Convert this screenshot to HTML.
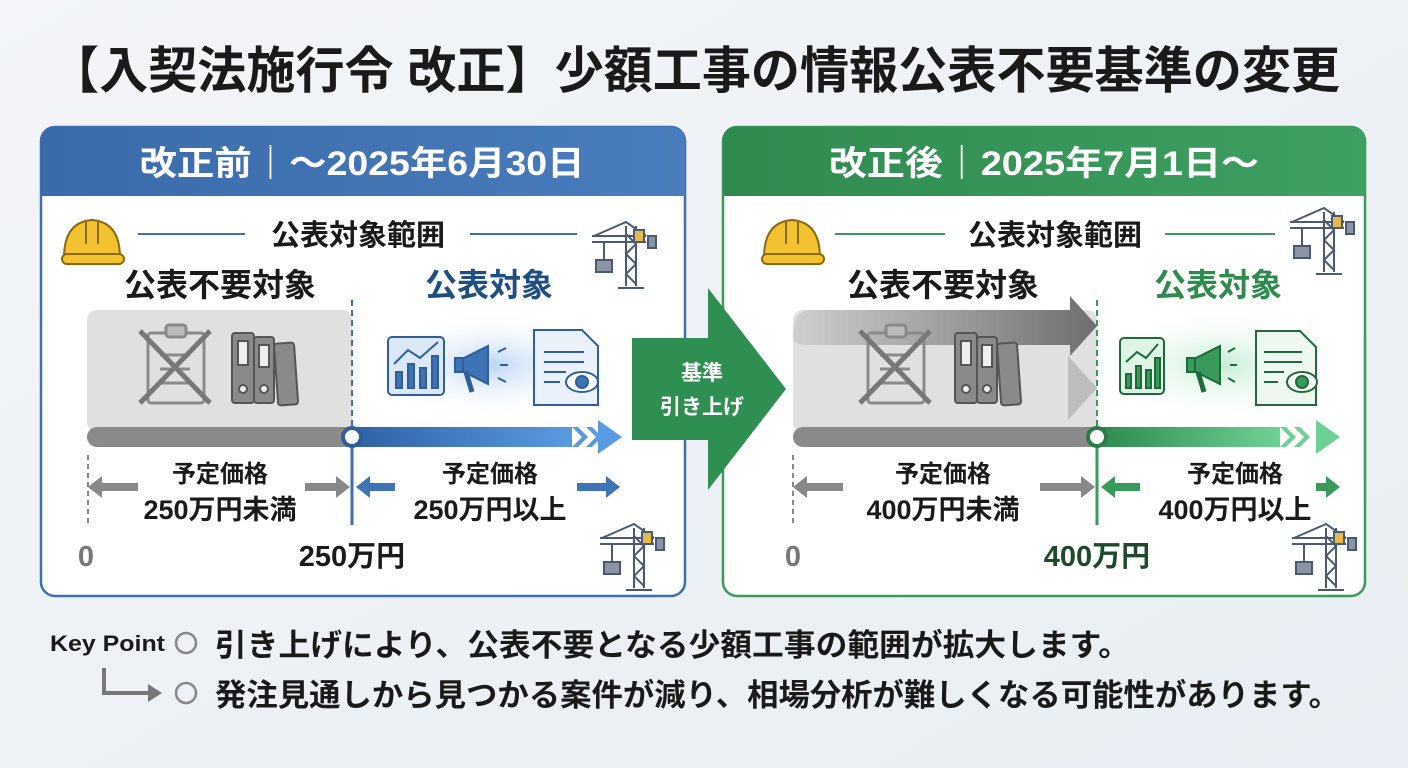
<!DOCTYPE html>
<html><head><meta charset="utf-8"><style>
html,body{margin:0;padding:0;width:1408px;height:768px;overflow:hidden;background:#eef2f6}
svg{display:block}
text{font-family:"Liberation Sans","Noto Sans CJK JP",sans-serif;font-weight:bold}
</style></head><body>
<svg width="1408" height="768" viewBox="0 0 1408 768" xmlns="http://www.w3.org/2000/svg">
<defs>
<linearGradient id="bg" x1="0" y1="0" x2="1" y2="1"><stop offset="0" stop-color="#f3f5f8"/><stop offset="1" stop-color="#e8eef3"/></linearGradient>
<linearGradient id="hb" x1="0" x2="1"><stop offset="0" stop-color="#3a6aaa"/><stop offset="1" stop-color="#4a7dbd"/></linearGradient>
<linearGradient id="hg" x1="0" x2="1"><stop offset="0" stop-color="#2f8a50"/><stop offset="1" stop-color="#3fa063"/></linearGradient>
<linearGradient id="bb" x1="0" x2="1"><stop offset="0" stop-color="#2f62a3"/><stop offset="1" stop-color="#5a9ae0"/></linearGradient>
<linearGradient id="gb" x1="0" x2="1"><stop offset="0" stop-color="#2e8a4e"/><stop offset="1" stop-color="#6fd096"/></linearGradient>
<linearGradient id="ga" x1="0" x2="1"><stop offset="0" stop-color="#cfcfcf"/><stop offset="1" stop-color="#6e6e6e"/></linearGradient>
<radialGradient id="glowb"><stop offset="0" stop-color="#bcd6f3"/><stop offset="1" stop-color="#ffffff" stop-opacity="0"/></radialGradient>
<radialGradient id="glowg"><stop offset="0" stop-color="#c4ecd2"/><stop offset="1" stop-color="#ffffff" stop-opacity="0"/></radialGradient>
<g id="helmet"><path d="M2 44 Q2 8 30 6 Q58 8 58 44 Z" fill="#f2c230" stroke="#8a6a10" stroke-width="2"/><rect x="0" y="40" width="62" height="10" rx="5" fill="#f2c230" stroke="#8a6a10" stroke-width="2"/><path d="M24 8 V30 M36 8 V30" stroke="#8a6a10" stroke-width="2"/></g>
<g id="crane" stroke="#4a5a70" stroke-width="2" fill="none"><path d="M36 6 V66 M46 6 V66 M36 14 L46 24 L36 34 L46 44 L36 54 L46 64"/><path d="M2 16 L56 16 M2 22 L56 22 M4 16 L36 2 L56 16"/><rect x="44" y="10" width="10" height="12" fill="#e7b94a"/><rect x="58" y="16" width="8" height="12" fill="#8a95a5"/><path d="M14 22 V40"/><rect x="6" y="40" width="16" height="12" fill="#8a95a5"/><path d="M28 68 H54"/></g>
<g id="clip" stroke="#8a8a8a" stroke-width="3" fill="none"><rect x="8" y="10" width="56" height="70" rx="3"/><rect x="26" y="2" width="20" height="12" rx="3" fill="#bbb"/><path d="M20 32 h30 M20 46 h30 M20 60 h30"/><path d="M0 8 L70 80 M70 8 L0 80" stroke="#777" stroke-width="5"/></g>
<g id="binders" fill="#8a8a8a" stroke="#555" stroke-width="2"><rect x="0" y="0" width="22" height="70" rx="3"/><rect x="22" y="4" width="20" height="66" rx="3"/><rect x="44" y="10" width="20" height="62" rx="3" transform="rotate(-4 54 40)"/><rect x="6" y="8" width="10" height="24" fill="#eee"/><rect x="27" y="12" width="10" height="22" fill="#eee"/><circle cx="11" cy="56" r="4" fill="#eee"/><circle cx="32" cy="56" r="4" fill="#eee"/></g>
</defs>
<rect width="1408" height="768" fill="url(#bg)"/>
<text x="695" y="88" font-size="50" text-anchor="middle" fill="#1a1a1a" textLength="1290" lengthAdjust="spacingAndGlyphs">【入契法施行令 改正】少額工事の情報公表不要基準の変更</text>

<!-- LEFT PANEL -->
<rect x="41" y="127" width="644" height="469" rx="14" fill="#fff" stroke="#3f6fae" stroke-width="2.5"/>
<path d="M41 196 V141 Q41 127 55 127 H671 Q685 127 685 141 V196 Z" fill="url(#hb)"/>
<text x="362" y="175" font-size="34" text-anchor="middle" fill="#fff" textLength="445" lengthAdjust="spacingAndGlyphs">改正前｜～2025年6月30日</text>
<use href="#helmet" x="62" y="214"/>
<line x1="138" y1="234" x2="245" y2="234" stroke="#3f6fae" stroke-width="2"/>
<line x1="470" y1="234" x2="577" y2="234" stroke="#3f6fae" stroke-width="2"/>
<text x="358" y="245" font-size="29" text-anchor="middle" fill="#1a1a1a">公表対象範囲</text>
<use href="#crane" x="590" y="220"/>
<text x="220" y="296" font-size="32" text-anchor="middle" fill="#1a1a1a">公表不要対象</text>
<text x="489" y="296" font-size="32" text-anchor="middle" fill="#1f4e80">公表対象</text>
<rect x="87" y="310" width="265" height="122" rx="10" fill="#e0e0e0"/>
<use href="#clip" x="140" y="323"/>
<use href="#binders" x="232" y="333"/>
<ellipse cx="492" cy="365" rx="120" ry="55" fill="url(#glowb)"/>
<g stroke="#2f5f9a" stroke-width="2" fill="#dbe8f7"><rect x="388" y="337" width="56" height="58" rx="4"/><rect x="396" y="372" width="6" height="16" fill="#3f73b5"/><rect x="408" y="364" width="6" height="24" fill="#3f73b5"/><rect x="420" y="368" width="6" height="20" fill="#3f73b5"/><rect x="432" y="356" width="6" height="32" fill="#3f73b5"/><path d="M394 364 L408 350 L420 358 L438 342" fill="none"/>
<path d="M460 360 L488 346 V384 L460 370 Z" fill="#3f73b5"/><rect x="455" y="358" width="8" height="14" fill="#3f73b5"/><path d="M466 372 L472 392" stroke-width="5"/><path d="M498 352 l8 -4 M500 365 h8 M498 378 l8 4" />
<path d="M534 330 H582 L598 346 V405 H534 Z" fill="#eaf1fa"/><path d="M544 352 h40 M544 362 h40 M544 372 h22 M544 382 h16"/><ellipse cx="582" cy="382" rx="16" ry="10" fill="#fff"/><circle cx="582" cy="382" r="6" fill="#3f73b5"/></g>
<rect x="87" y="427" width="270" height="20" rx="10" fill="#8a8a8a"/>
<rect x="352" y="427" width="220" height="20" fill="url(#bb)"/>
<path d="M572 427 L582 437 L572 447 L578 447 L588 437 L578 427 Z M586 427 L596 437 L586 447 L592 447 L602 437 L592 427 Z" fill="#5a9ae0"/>
<path d="M598 420 L622 437 L598 454 Z" fill="#5a9ae0"/>
<line x1="352" y1="300" x2="352" y2="428" stroke="#3f6fae" stroke-width="2" stroke-dasharray="6 4"/>
<line x1="352" y1="437" x2="352" y2="525" stroke="#3f6fae" stroke-width="3"/>
<circle cx="352" cy="437" r="9" fill="#fff" stroke="#2f5f9a" stroke-width="4"/>
<line x1="88" y1="455" x2="88" y2="525" stroke="#888" stroke-width="2" stroke-dasharray="5 4"/>
<path d="M88 487 L102 476 V483 H138 V491 H102 V498 Z" fill="#888"/>
<path d="M350 487 L336 476 V483 H305 V491 H336 V498 Z" fill="#888"/>
<path d="M356 487 L370 476 V483 H395 V491 H370 V498 Z" fill="#3f73b5"/>
<path d="M620 487 L606 476 V483 H577 V491 H606 V498 Z" fill="#3f73b5"/>
<text x="220" y="482" font-size="24" text-anchor="middle" fill="#1a1a1a">予定価格</text>
<text x="220" y="519" font-size="27" text-anchor="middle" fill="#1a1a1a">250万円未満</text>
<text x="490" y="482" font-size="24" text-anchor="middle" fill="#1a1a1a">予定価格</text>
<text x="490" y="519" font-size="27" text-anchor="middle" fill="#1a1a1a">250万円以上</text>
<text x="86" y="566" font-size="29" text-anchor="middle" fill="#777">0</text>
<text x="352" y="566" font-size="29" text-anchor="middle" fill="#1a1a1a">250万円</text>
<use href="#crane" x="598" y="522"/>

<!-- RIGHT PANEL -->
<rect x="723" y="127" width="642" height="469" rx="14" fill="#fff" stroke="#3a9a5c" stroke-width="2.5"/>
<path d="M723 196 V141 Q723 127 737 127 H1351 Q1365 127 1365 141 V196 Z" fill="url(#hg)"/>
<text x="1044" y="175" font-size="34" text-anchor="middle" fill="#fff" textLength="430" lengthAdjust="spacingAndGlyphs">改正後｜2025年7月1日～</text>
<use href="#helmet" x="762" y="214"/>
<line x1="835" y1="234" x2="945" y2="234" stroke="#3a9a5c" stroke-width="2"/>
<line x1="1165" y1="234" x2="1275" y2="234" stroke="#3a9a5c" stroke-width="2"/>
<text x="1055" y="245" font-size="29" text-anchor="middle" fill="#1a1a1a">公表対象範囲</text>
<use href="#crane" x="1288" y="206"/>
<text x="943" y="296" font-size="32" text-anchor="middle" fill="#1a1a1a">公表不要対象</text>
<text x="1218" y="296" font-size="32" text-anchor="middle" fill="#2e8a4e">公表対象</text>
<rect x="793" y="310" width="304" height="122" rx="10" fill="#e0e0e0"/>
<path d="M793 338 Q793 310 810 310 H1070 V296 L1097 326 L1070 356 V345 H810 Q793 345 793 338 Z" fill="url(#ga)"/>
<path d="M1068 356 L1097 388 L1068 420 Z" fill="#bdbdbd"/>
<use href="#clip" x="860" y="323"/>
<use href="#binders" x="955" y="333"/>
<ellipse cx="1220" cy="365" rx="125" ry="58" fill="url(#glowg)"/>
<g stroke="#1f6a3a" stroke-width="2" fill="#dff3e6"><rect x="1120" y="338" width="44" height="56" rx="4"/><rect x="1126" y="374" width="5" height="14" fill="#3a9a5c"/><rect x="1136" y="366" width="5" height="22" fill="#3a9a5c"/><rect x="1146" y="370" width="5" height="18" fill="#3a9a5c"/><rect x="1155" y="358" width="5" height="30" fill="#3a9a5c"/><path d="M1126 362 L1137 352 L1146 358 L1158 344" fill="none"/>
<path d="M1192 360 L1220 346 V384 L1192 370 Z" fill="#3a9a5c"/><rect x="1187" y="358" width="8" height="14" fill="#3a9a5c"/><path d="M1198 372 L1204 392" stroke-width="5"/><path d="M1228 352 l7 -4 M1230 365 h7 M1228 378 l7 4"/>
<path d="M1256 331 H1300 L1316 347 V405 H1256 Z" fill="#eef8f1"/><path d="M1264 352 h38 M1264 362 h38 M1264 372 h20 M1264 382 h14"/><ellipse cx="1302" cy="382" rx="15" ry="10" fill="#fff"/><circle cx="1302" cy="382" r="6" fill="#3a9a5c"/></g>
<rect x="793" y="427" width="310" height="20" rx="10" fill="#8a8a8a"/>
<rect x="1097" y="427" width="183" height="20" fill="url(#gb)"/>
<path d="M1280 427 L1290 437 L1280 447 L1286 447 L1296 437 L1286 427 Z M1294 427 L1304 437 L1294 447 L1300 447 L1310 437 L1300 427 Z" fill="#6fd096"/>
<path d="M1316 420 L1340 437 L1316 454 Z" fill="#6fd096"/>
<line x1="1097" y1="300" x2="1097" y2="428" stroke="#3a9a5c" stroke-width="2" stroke-dasharray="6 4"/>
<line x1="1097" y1="437" x2="1097" y2="525" stroke="#3a9a5c" stroke-width="3"/>
<circle cx="1097" cy="437" r="9" fill="#fff" stroke="#2e7a48" stroke-width="4"/>
<line x1="793" y1="455" x2="793" y2="525" stroke="#888" stroke-width="2" stroke-dasharray="5 4"/>
<path d="M793 487 L807 476 V483 H843 V491 H807 V498 Z" fill="#888"/>
<path d="M1095 487 L1081 476 V483 H1040 V491 H1081 V498 Z" fill="#888"/>
<path d="M1101 487 L1115 476 V483 H1140 V491 H1115 V498 Z" fill="#3a9a5c"/>
<path d="M1340 487 L1326 476 V483 H1316 V491 H1326 V498 Z" fill="#3a9a5c"/>
<text x="943" y="482" font-size="24" text-anchor="middle" fill="#1a1a1a">予定価格</text>
<text x="943" y="519" font-size="27" text-anchor="middle" fill="#1a1a1a">400万円未満</text>
<text x="1235" y="482" font-size="24" text-anchor="middle" fill="#1a1a1a">予定価格</text>
<text x="1235" y="519" font-size="27" text-anchor="middle" fill="#1a1a1a">400万円以上</text>
<text x="793" y="566" font-size="29" text-anchor="middle" fill="#777">0</text>
<text x="1097" y="566" font-size="29" text-anchor="middle" fill="#1e4a2a">400万円</text>
<use href="#crane" x="1290" y="522"/>

<!-- CENTER ARROW (on top) -->
<path d="M632 338 H708 V288 L786 389 L708 490 V440 H632 Z" fill="#2f8f52"/>
<text x="702" y="380" font-size="21" text-anchor="middle" fill="#fff">基準</text>
<text x="702" y="414" font-size="21" text-anchor="middle" fill="#fff">引き上げ</text>

<!-- KEY POINT -->
<text x="50" y="651" font-size="22" fill="#1a1a1a" textLength="115" lengthAdjust="spacingAndGlyphs">Key Point</text>
<circle cx="186" cy="643" r="10" fill="none" stroke="#888" stroke-width="2.5"/>
<text x="215" y="656" font-size="31" fill="#1a1a1a" textLength="915" lengthAdjust="spacingAndGlyphs">引き上げにより、公表不要となる少額工事の範囲が拡大します。</text>
<path d="M104 668 V693 H150" fill="none" stroke="#777" stroke-width="4"/>
<path d="M148 684 L162 693 L148 702 Z" fill="#777"/>
<circle cx="186" cy="693" r="10" fill="none" stroke="#888" stroke-width="2.5"/>
<text x="215" y="706" font-size="31" fill="#1a1a1a" textLength="1125" lengthAdjust="spacingAndGlyphs">発注見通しから見つかる案件が減り、相場分析が難しくなる可能性があります。</text>
</svg>
</body></html>
